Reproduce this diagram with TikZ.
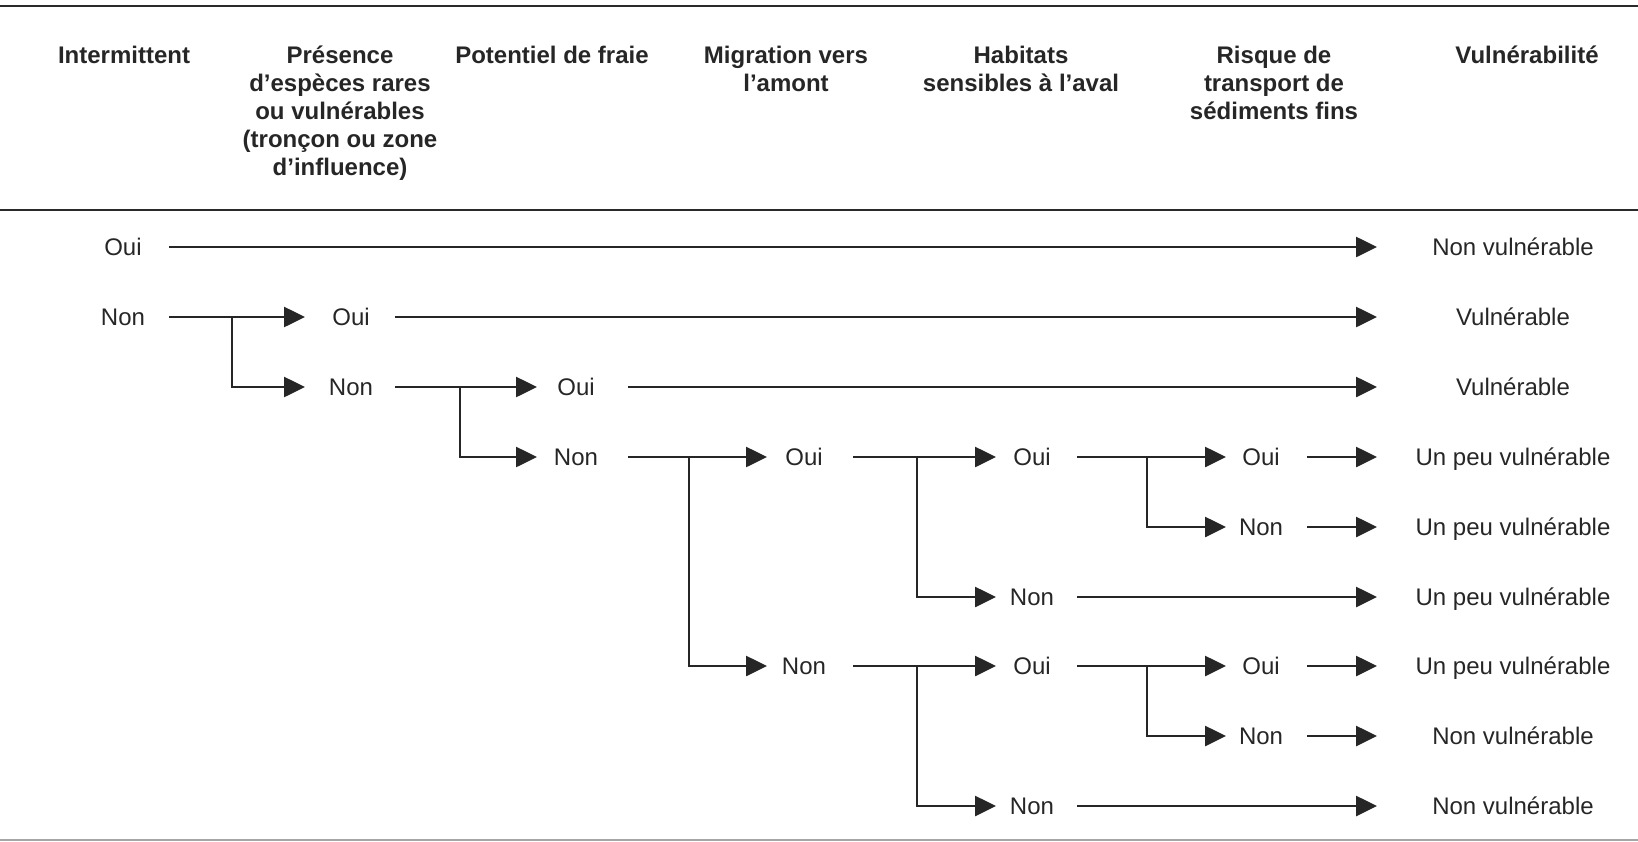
\documentclass[tikz,border=0pt]{standalone}
\usepackage{fontspec}
\setmainfont{Liberation Sans}
\usetikzlibrary{arrows.meta}
\definecolor{ink}{HTML}{262626}
\definecolor{rule}{HTML}{2A2A2A}
\begin{document}
\begin{tikzpicture}[x=1pt,y=-1pt,
  every node/.style={text=ink, inner sep=0pt, font=\fontsize{24}{28}\selectfont},
  hdr/.style={font=\fontsize{24}{28}\selectfont\bfseries, align=center, anchor=north},
  lab/.style={text height=17.2pt, text depth=0pt, anchor=center},
  conn/.style={draw=ink, line width=2.6pt},
  arr/.style={conn, -{Triangle[length=21pt,width=20pt]}}
]
\useasboundingbox (0,0) rectangle (1638,841);
% rules
\draw[rule, line width=2.5pt] (0,6) -- (1638,6);
\draw[rule, line width=2.5pt] (0,210) -- (1638,210);
\draw[black!35, line width=1.5pt] (0,840) -- (1638,840);
% headers
\node[hdr] (h0) at (124,43.4) {\strut Intermittent};
\node[hdr] (h1) at (340,43.4) {\strut Présence\\d’espèces rares\\ou vulnérables\\(tronçon ou zone\\d’influence)};
\node[hdr] (h2) at (552,43.4) {\strut Potentiel de fraie};
\node[hdr] (h3) at (786,43.4) {\strut Migration vers\\l’amont};
\node[hdr] (h4) at (1021,43.4) {\strut Habitats\\sensibles à l’aval};
\node[hdr] (h5) at (1274,43.4) {\strut Risque de\\transport de\\sédiments fins};
\node[hdr] (h6) at (1527,43.4) {\strut Vulnérabilité};
% column coordinates (x only)
\coordinate (s0) at (169,0);
\coordinate (s1) at (395,0);
\coordinate (s2) at (628,0);
\coordinate (s3) at (853,0);
\coordinate (s4) at (1077,0);
\coordinate (s5) at (1307,0);
\coordinate (b0) at (232,0);
\coordinate (b1) at (460,0);
\coordinate (b2) at (689,0);
\coordinate (b3) at (917,0);
\coordinate (b4) at (1147,0);
\coordinate (t1) at (305,0);
\coordinate (t2) at (537,0);
\coordinate (t3) at (767,0);
\coordinate (t4) at (996,0);
\coordinate (t5) at (1226,0);
\coordinate (tR) at (1377,0);
% labels
\node[lab] (r0c0) at (123,247) {Oui};
\node[lab] (r1c0) at (123,317) {Non};
\node[lab] (r1c1) at (351,317) {Oui};
\node[lab] (r2c1) at (351,387) {Non};
\node[lab] (r2c2) at (576,387) {Oui};
\node[lab] (r3c2) at (576,457) {Non};
\node[lab] (r3c3) at (804,457) {Oui};
\node[lab] (r3c4) at (1032,457) {Oui};
\node[lab] (r3c5) at (1261,457) {Oui};
\node[lab] (r4c5) at (1261,527) {Non};
\node[lab] (r5c4) at (1032,597) {Non};
\node[lab] (r6c3) at (804,666) {Non};
\node[lab] (r6c4) at (1032,666) {Oui};
\node[lab] (r6c5) at (1261,666) {Oui};
\node[lab] (r7c5) at (1261,736) {Non};
\node[lab] (r8c4) at (1032,806) {Non};
% results
\node[lab] (res0) at (1513,247) {Non vulnérable};
\node[lab] (res1) at (1513,317) {Vulnérable};
\node[lab] (res2) at (1513,387) {Vulnérable};
\node[lab] (res3) at (1513,457) {Un peu vulnérable};
\node[lab] (res4) at (1513,527) {Un peu vulnérable};
\node[lab] (res5) at (1513,597) {Un peu vulnérable};
\node[lab] (res6) at (1513,666) {Un peu vulnérable};
\node[lab] (res7) at (1513,736) {Non vulnérable};
\node[lab] (res8) at (1513,806) {Non vulnérable};
% connectors
\draw[arr] (r0c0 -| s0) -- (res0 -| tR);
\draw[arr] (r1c0 -| s0) -- (r1c1 -| t1);
\draw[arr] (r1c0 -| b0) |- (r2c1 -| t1);
\draw[arr] (r1c1 -| s1) -- (res1 -| tR);
\draw[arr] (r2c1 -| s1) -- (r2c2 -| t2);
\draw[arr] (r2c1 -| b1) |- (r3c2 -| t2);
\draw[arr] (r2c2 -| s2) -- (res2 -| tR);
\draw[arr] (r3c2 -| s2) -- (r3c3 -| t3);
\draw[arr] (r3c2 -| b2) |- (r6c3 -| t3);
\draw[arr] (r3c3 -| s3) -- (r3c4 -| t4);
\draw[arr] (r3c3 -| b3) |- (r5c4 -| t4);
\draw[arr] (r3c4 -| s4) -- (r3c5 -| t5);
\draw[arr] (r3c4 -| b4) |- (r4c5 -| t5);
\draw[arr] (r3c5 -| s5) -- (res3 -| tR);
\draw[arr] (r4c5 -| s5) -- (res4 -| tR);
\draw[arr] (r5c4 -| s4) -- (res5 -| tR);
\draw[arr] (r6c3 -| s3) -- (r6c4 -| t4);
\draw[arr] (r6c3 -| b3) |- (r8c4 -| t4);
\draw[arr] (r6c4 -| s4) -- (r6c5 -| t5);
\draw[arr] (r6c4 -| b4) |- (r7c5 -| t5);
\draw[arr] (r6c5 -| s5) -- (res6 -| tR);
\draw[arr] (r7c5 -| s5) -- (res7 -| tR);
\draw[arr] (r8c4 -| s4) -- (res8 -| tR);
\end{tikzpicture}
\end{document}
